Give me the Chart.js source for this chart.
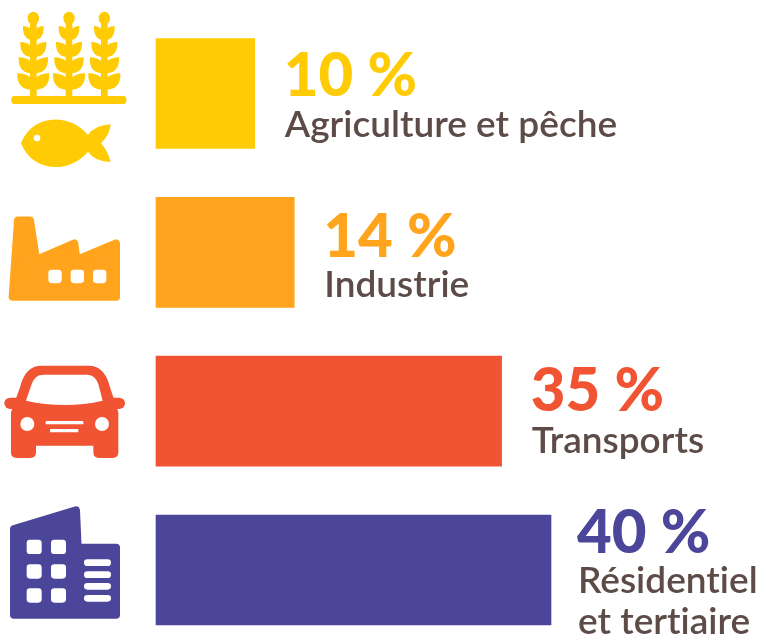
<!DOCTYPE html>
<html lang="fr">
<head>
<meta charset="utf-8">
<title>Répartition par secteur</title>
<script src="https://cdn.jsdelivr.net/npm/chart.js@4/dist/chart.umd.min.js"></script>
<style>
  html, body { margin: 0; padding: 0; background: #fff; overflow: hidden; }
  canvas { display: block; }
</style>
</head>
<body>
<canvas id="sectorChart" width="766" height="637"></canvas>
<script>
// data
const categories = ['Agriculture et pêche', 'Industrie', 'Transports', ['Résidentiel', 'et tertiaire']];
const shares = [10, 14, 35, 40];
const shareUnit = ' %';

// colours
const barColors = ['#FFCB05', '#FFA41C', '#F15433', '#4B4699'];
const textColor = '#5C4B46';

// text position, relative to the end and the middle of each bar
const textGaps = [30, 30, 30, 27];
const shareBaselines = [2, 4.5, -0.5, -17];
const nameBaselines = [43, 44.5, 41.5, 23];

// pictograms, written in 3x units, origin relative to the middle of each bar
function poly(ctx, pts, radius) {
  ctx.beginPath();
  pts.forEach((p, i) => i ? ctx.lineTo(p[0], p[1]) : ctx.moveTo(p[0], p[1]));
  ctx.closePath();
  ctx.lineWidth = radius * 2;
  ctx.lineJoin = 'round';
  ctx.fill();
  ctx.stroke();
}

function holes(ctx, rects, r) {
  ctx.fillStyle = '#fff';
  rects.forEach(b => {
    ctx.beginPath();
    ctx.roundRect(b[0], b[1], b[2], b[3], r);
    ctx.fill();
  });
}

function leaf(ctx, cx, top, bottom, w, side) {
  ctx.beginPath();
  ctx.moveTo(cx, bottom);
  ctx.bezierCurveTo(cx - side * w * 0.55, bottom + 2, cx - side * w * 1.05, bottom - 10, cx - side * w, top + 6);
  ctx.quadraticCurveTo(cx - side * w * 0.5, top + 4, cx, top + 24);
  ctx.closePath();
  ctx.fill();
}

const icons = [
  // wheat and fish
  ctx => {
    [100, 207, 313].forEach(cx => {
      ctx.fillRect(cx - 10, 50, 20, 245);
      ctx.beginPath();
      ctx.ellipse(cx, 55, 17, 20, 0, 0, Math.PI * 2);
      ctx.fill();
      [[72, 120, 31], [120, 171, 39], [166, 220, 44], [214, 269, 48]].forEach(l => {
        leaf(ctx, cx, l[0], l[1], l[2], 1);
        leaf(ctx, cx, l[0], l[1], l[2], -1);
      });
    });
    ctx.beginPath();
    ctx.roundRect(34, 288, 345, 24, 10);
    ctx.fill();
    ctx.beginPath();
    ctx.moveTo(63, 430);
    ctx.bezierCurveTo(95, 345, 205, 335, 264, 405);
    ctx.quadraticCurveTo(285, 375, 332, 373);
    ctx.quadraticCurveTo(330, 405, 303, 430);
    ctx.quadraticCurveTo(325, 455, 332, 486);
    ctx.quadraticCurveTo(285, 485, 264, 455);
    ctx.bezierCurveTo(205, 525, 95, 515, 63, 430);
    ctx.closePath();
    ctx.fill();
    ctx.fillStyle = '#fff';
    ctx.beginPath();
    ctx.arc(111, 414, 10, 0, Math.PI * 2);
    ctx.fill();
  },
  // factory
  ctx => {
    ctx.strokeStyle = ctx.fillStyle;
    poly(ctx, [[38, 291], [54, 62], [90, 62], [108.5, 180], [223, 131], [229.5, 180], [348, 131], [348, 291]], 12);
    holes(ctx, [[145, 210, 40, 40], [212, 210, 40, 40], [279, 210, 40, 40]], 10);
  },
  // car
  ctx => {
    ctx.beginPath();
    ctx.moveTo(33, 185);
    ctx.lineTo(60, 110);
    ctx.quadraticCurveTo(75, 45, 125, 45);
    ctx.lineTo(265, 45);
    ctx.quadraticCurveTo(315, 45, 330, 110);
    ctx.lineTo(355, 185);
    ctx.lineTo(355, 305);
    ctx.quadraticCurveTo(355, 322, 338, 322);
    ctx.lineTo(297, 322);
    ctx.quadraticCurveTo(280, 322, 280, 305);
    ctx.lineTo(280, 285);
    ctx.lineTo(108, 285);
    ctx.lineTo(108, 305);
    ctx.quadraticCurveTo(108, 322, 91, 322);
    ctx.lineTo(50, 322);
    ctx.quadraticCurveTo(33, 322, 33, 305);
    ctx.closePath();
    ctx.fill();
    ctx.beginPath();
    ctx.roundRect(13, 141, 362, 34, 17);
    ctx.fill();
    ctx.fillStyle = '#fff';
    ctx.beginPath();
    ctx.moveTo(78, 150);
    ctx.lineTo(95, 100);
    ctx.quadraticCurveTo(105, 72, 130, 72);
    ctx.lineTo(260, 72);
    ctx.quadraticCurveTo(285, 72, 295, 100);
    ctx.lineTo(308, 150);
    ctx.quadraticCurveTo(195, 176, 78, 150);
    ctx.closePath();
    ctx.fill();
    [[82, 220], [306, 220]].forEach(c => {
      ctx.beginPath();
      ctx.arc(c[0], c[1], 21, 0, Math.PI * 2);
      ctx.fill();
    });
    holes(ctx, [[137, 211, 113, 10], [150, 235, 85, 10]], 2);
  },
  // building
  ctx => {
    ctx.strokeStyle = ctx.fillStyle;
    poly(ctx, [[42, 96], [228, 40], [233, 152], [348, 152], [348, 353], [42, 353]], 12);
    const cells = [];
    [128, 202, 274].forEach(y => [80, 153].forEach(x => cells.push([x, y, 45, 43])));
    holes(ctx, cells, 10);
    holes(ctx, [[252, 187, 81, 20], [252, 223, 81, 20], [252, 258, 81, 20], [252, 294, 81, 20]], 10);
  }
];
const iconOffsets = [-93.5, -52.5, -60.5, -73];

// icons and text next to the bars
const sectorDecor = {
  id: 'sectorDecor',
  afterDatasetsDraw(chart) {
    const ctx = chart.ctx;
    chart.getDatasetMeta(0).data.forEach((bar, i) => {
      ctx.save();
      ctx.translate(0, bar.y + iconOffsets[i]);
      ctx.scale(1 / 3, 1 / 3);
      ctx.fillStyle = barColors[i];
      icons[i](ctx);
      ctx.restore();

      const textX = bar.x + textGaps[i];
      ctx.save();
      ctx.textAlign = 'left';
      ctx.textBaseline = 'alphabetic';
      ctx.fillStyle = barColors[i];
      ctx.font = '900 60px Lato';
      ctx.fillText(shares[i] + shareUnit, textX - 1, bar.y + shareBaselines[i]);
      ctx.fillStyle = textColor;
      ctx.font = '600 37px Lato';
      ctx.letterSpacing = '0.01px'; // no "ti" ligature
      [].concat(categories[i]).forEach((line, k) => {
        ctx.fillText(line, textX, bar.y + nameBaselines[i] + k * 41);
      });
      ctx.restore();
    });
  }
};

new Chart(document.getElementById('sectorChart'), {
  type: 'bar',
  data: {
    labels: categories,
    datasets: [{
      data: shares,
      backgroundColor: barColors,
      barThickness: 110,
      borderWidth: 0,
      clip: false
    }]
  },
  options: {
    indexAxis: 'y',
    responsive: false,
    animation: false,
    layout: { padding: { left: 156, right: 215, top: 93.5, bottom: 67 } },
    plugins: { legend: { display: false }, tooltip: { enabled: false } },
    scales: {
      x: { display: false, min: 0, max: 40 },
      y: { display: false, offset: false }
    }
  },
  plugins: [sectorDecor]
});
</script>
</body>
</html>
